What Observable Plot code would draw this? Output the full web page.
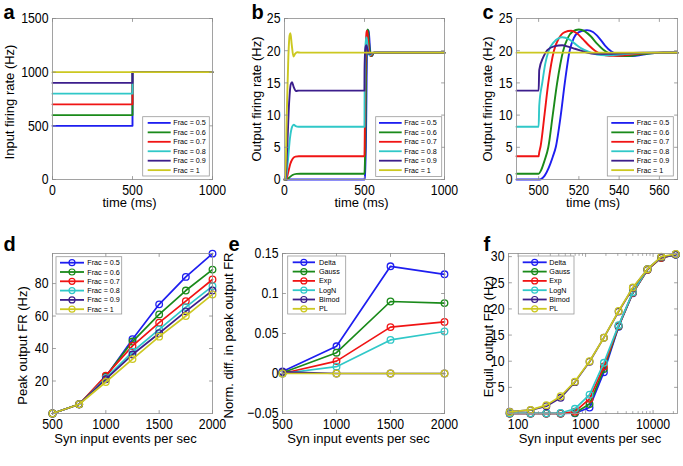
<!DOCTYPE html>
<html><head><meta charset="utf-8">
<script src="https://cdn.jsdelivr.net/npm/d3@7"></script>
<script src="https://cdn.jsdelivr.net/npm/@observablehq/plot@0.6"></script>
<style>
html,body{margin:0;padding:0;background:#fff;}
#fig{position:relative;width:683px;height:466px;overflow:hidden;background:#fff;}
#fig svg{position:absolute;left:0;top:0;}
</style></head><body><div id="fig"></div>
<script>
const FONT = "'Liberation Sans',Arial,sans-serif";
const SQUEEZE = 0.82;
const W = 683, H = 466;

// ---------- shared labels / colours ----------
const fracLabels = ["Frac = 0.5","Frac = 0.6","Frac = 0.7","Frac = 0.8","Frac = 0.9","Frac = 1"];
const distLabels = ["Delta","Gauss","Exp","LogN","Bimod","PL"];
const colors = ["#1e1ef0","#1a8a1a","#f01414","#30c8c8","#3c1e8c","#ccc820"];

// ---------- panel a : input firing rate ----------
const aTime = [0, 500, 500, 1000];
const aRates = [
  [500, 500, 1000, 1000],
  [600, 600, 1000, 1000],
  [700, 700, 1000, 1000],
  [800, 800, 1000, 1000],
  [900, 900, 1000, 1000],
  [1000, 1000, 1000, 1000]
];
const aXTicks = [0, 500, 1000];
const aYTicks = [0, 500, 1000, 1500];

// ---------- panel b : onset transient (t, Hz) ----------
const bOnset = [
  [[0,0],[500,0]],
  [[0,0],[15,0],[30,0.3],[50,0.7],[75,0.88],[100,0.9],[500,0.9]],
  [[0,0],[10,0],[22,1],[36,2.4],[52,3.25],[68,3.55],[90,3.6],[500,3.6]],
  [[0,0],[8,0],[20,2.6],[34,6.4],[48,8.2],[58,8.5],[70,8.3],[88,8.2],[500,8.2]],
  [[0,0],[6,0],[17,5],[29,12],[39,14.8],[47,15.1],[57,14.4],[72,13.75],[90,13.8],[500,13.8]],
  [[0,0],[5,0],[14,10],[24,19],[32,22.4],[37,22.7],[45,21],[56,19.1],[66,19.5],[80,19.75],[100,19.7],[500,19.7]]
];
const bEnd = [1000, 19.7];
const bXTicks = [0, 500, 1000];
const bYTicks = [0, 5, 10, 15, 20, 25];

// ---------- panel c : response to the step at 500 ms ----------
const cStep = [
  [[489,0],[500.5,0],[503,0.6],[505,1.8],[507,3.5],[508.5,5],[511,10],[513,15],[515.4,20],[517.5,22],[520,22.9],[524,23.2],[527,22.9],[530,22],[533,20.8],[536,19.9],[539,19.4],[544,19.15],[550,19.3],[556,19.6],[562,19.7],[569,19.7]],
  [[489,0.9],[500,0.9],[501,1.3],[503,3],[504.8,5],[507,10],[509.2,15],[512.2,20],[514.5,22],[517,23],[520,23.3],[523,23],[526,22.2],[529,21.1],[532,20.2],[535,19.6],[539,19.2],[544,19.15],[550,19.4],[556,19.6],[562,19.7],[569,19.7]],
  [[489,3.6],[500,3.6],[500.3,4.2],[501,5.2],[502.9,10],[504.8,15],[507.6,20],[510,21.9],[513,22.9],[516.2,23.1],[519,22.7],[522,21.8],[525,20.8],[528,20],[531,19.5],[535,19.2],[540,19.2],[546,19.4],[552,19.6],[560,19.7],[569,19.7]],
  [[489,8.2],[500,8.2],[500.3,11.5],[501.8,15],[503.3,18],[505,20],[507.5,21.3],[511.7,22.1],[515,21.8],[518,21.1],[521,20.4],[525,19.8],[529,19.4],[533,19.3],[540,19.4],[548,19.6],[556,19.7],[569,19.7]],
  [[489,13.8],[500,13.8],[500.3,17],[502.3,19],[504.3,20.1],[508,20.7],[511.7,20.85],[515,20.6],[518,20.3],[521,20],[524,19.7],[528,19.5],[534,19.5],[542,19.6],[552,19.7],[569,19.7]],
  [[489,19.7],[569,19.7]]
];
const cXTicks = [500, 520, 540, 560];
const cYTicks = [0, 5, 10, 15, 20, 25];

// ---------- panel d : peak output FR ----------
const dX = [500, 750, 1000, 1250, 1500, 1750, 2000];
const dY = [
  [0, 5.7, 22.6, 45.7, 67.2, 84.1, 98.4],
  [0, 5.7, 22.9, 44.3, 61.0, 75.7, 88.6],
  [0, 5.7, 23.3, 41.6, 55.9, 69.2, 82.5],
  [0, 5.7, 21.8, 38.0, 51.8, 65.5, 78.4],
  [0, 5.7, 21.1, 36.3, 49.4, 62.9, 75.7],
  [0, 5.7, 19.4, 33.5, 47.3, 60.0, 73.3]
];
const dXTicks = [500, 1000, 1500, 2000];
const dYTicks = [20, 40, 60, 80];

// ---------- panel e : normalised difference ----------
const eX = [500, 1000, 1500, 2000];
const eY = [
  [0.0025, 0.034, 0.134, 0.124],
  [0.001, 0.026, 0.090, 0.088],
  [0, 0.0155, 0.058, 0.0645],
  [0, 0.0085, 0.042, 0.0525],
  [0.002, 0, 0, 0],
  [0, 0, 0, 0]
];
const eXTicks = [500, 1000, 1500, 2000];
const eYTicks = [-0.05, 0, 0.05, 0.1, 0.15];
const eYLabels = ["\u22120.05", "0", "0.05", "0.1", "0.15"];

// ---------- panel f : equilibrium output FR ----------
const fX = [75, 153, 262, 426, 694, 1144, 1866, 3084, 5010, 8250, 13240, 21700];
const fY = [
  [0, 0, 0, 0, 0.05, 1.15, 7.9, 16.6, 23.0, 27.5, 29.8, 30.4],
  [0, 0, 0, 0, 0.1, 1.8, 8.5, 16.7, 23.1, 27.5, 29.8, 30.4],
  [0, 0, 0, 0, 0.35, 2.8, 9.0, 16.8, 23.1, 27.5, 29.8, 30.4],
  [0.05, 0.05, 0.05, 0.1, 0.9, 3.6, 9.7, 16.9, 23.2, 27.6, 29.9, 30.4],
  [0.35, 0.65, 1.4, 3.0, 6.0, 9.9, 14.5, 19.5, 24.0, 27.6, 29.9, 30.4],
  [0.3, 0.7, 1.6, 3.3, 6.1, 10.0, 14.5, 19.6, 24.1, 27.6, 30.0, 30.5]
];
const fXTicks = [100, 1000, 10000];
const fXMinor = [200,300,400,500,600,700,800,900,2000,3000,4000,5000,6000,7000,8000,9000,20000];
const fYTicks = [5, 10, 15, 20, 25, 30];

// ---------- helpers ----------
const fig = document.getElementById("fig");
const tickShape = {draw(ctx, l) { ctx.moveTo(0, 0); ctx.lineTo(0, -l); }};
const TICKC = "#8a8a8a";

function innerTicks(xt, yt, len = 3) {
  return [
    Plot.vector(xt, {x: d => d, frameAnchor: "bottom", length: len, rotate: 0, anchor: "start", shape: tickShape, stroke: TICKC, strokeWidth: 0.8}),
    Plot.vector(xt, {x: d => d, frameAnchor: "top", length: len, rotate: 180, anchor: "start", shape: tickShape, stroke: TICKC, strokeWidth: 0.8}),
    Plot.vector(yt, {y: d => d, frameAnchor: "left", length: len, rotate: 90, anchor: "start", shape: tickShape, stroke: TICKC, strokeWidth: 0.8}),
    Plot.vector(yt, {y: d => d, frameAnchor: "right", length: len, rotate: -90, anchor: "start", shape: tickShape, stroke: TICKC, strokeWidth: 0.8})
  ];
}

function panel(cfg) {
  const {frame, x, y, xt, yt, xfmt, yfmt, marks, xlabel, ylabel, ylabelDx, ylabelDy = 0, xlabelDx = 0, xlabelDy, letter, letterDx, letterDy, extraTicks} = cfg;
  const p = Plot.plot({
    width: W, height: H,
    marginLeft: frame[0], marginRight: W - frame[2], marginTop: frame[1], marginBottom: H - frame[3],
    x: {...x, label: null}, y: {...y, label: null},
    style: {fontFamily: FONT, fontSize: "13px", background: "transparent", color: "#000", overflow: "visible"},
    marks: [
      ...marks,
      Plot.frame({stroke: "#999", strokeWidth: 0.9}),
      ...innerTicks(xt, yt),
      ...(extraTicks || []),
      Plot.axisX(xt, {anchor: "bottom", tickSize: 0, tickPadding: 4.5, fontSize: 15, tickFormat: xfmt || (d => String(d)), label: null}),
      Plot.axisY(yt, {anchor: "left", tickSize: 0, tickPadding: 4, fontSize: 15, tickFormat: yfmt || (d => String(d)), label: null}),
      Plot.text([xlabel], {text: d => d, frameAnchor: "bottom", dx: xlabelDx, dy: xlabelDy, textAnchor: "middle", lineAnchor: "middle"}),
      Plot.text([ylabel], {text: d => d, frameAnchor: "left", dx: ylabelDx, dy: ylabelDy, rotate: -90, textAnchor: "middle", lineAnchor: "middle"}),
      Plot.text([letter], {text: d => d, frameAnchor: "top-left", dx: letterDx, dy: letterDy, textAnchor: "start", lineAnchor: "bottom", fontWeight: "bold", fontSize: 20})
    ]
  });
  fig.appendChild(p);
}

const LW = 1.9;

// ---- a ----
const aMarks = aRates.map((r, i) =>
  Plot.line(aTime.map((t, j) => ({t, v: r[j]})), {x: "t", y: "v", stroke: colors[i], strokeWidth: LW}));
panel({frame: [52, 18, 212, 179], x: {domain: [0, 1000]}, y: {domain: [0, 1500]}, xt: aXTicks, yt: aYTicks,
  marks: aMarks, xlabel: "time (ms)", ylabel: "Input firing rate (Hz)", ylabelDx: -42.5, ylabelDy: 3, xlabelDx: -3, xlabelDy: 23.5,
  letter: "a", letterDx: -49, letterDy: 0.5});

// ---- b ----
const bMarks = bOnset.map((on, i) => {
  const rows = on.map(([t, v]) => ({t, v}))
    .concat(cStep[i].filter(([t]) => t > 500).map(([t, v]) => ({t, v})))
    .concat([{t: bEnd[0], v: bEnd[1]}]);
  return Plot.line(rows, {x: "t", y: "v", stroke: colors[i], strokeWidth: LW, curve: "monotone-x"});
});
panel({frame: [284, 18, 444, 179], x: {domain: [0, 1000]}, y: {domain: [0, 25]}, xt: bXTicks, yt: bYTicks,
  marks: bMarks, xlabel: "time (ms)", ylabel: "Output firing rate (Hz)", ylabelDx: -28, xlabelDx: -3, xlabelDy: 23.5,
  letter: "b", letterDx: -33, letterDy: 0.5});

// ---- c ----
const cMarks = cStep.map((s, i) =>
  Plot.line(s.map(([t, v]) => ({t, v})), {x: "t", y: "v", stroke: colors[i], strokeWidth: LW, curve: "monotone-x"}));
panel({frame: [516, 18, 677, 179], x: {domain: [489, 569]}, y: {domain: [0, 25]}, xt: cXTicks, yt: cYTicks,
  marks: cMarks, xlabel: "time (ms)", ylabel: "Output firing rate (Hz)", ylabelDx: -28.5, xlabelDx: -4, xlabelDy: 23.5,
  letter: "c", letterDx: -34, letterDy: 0.5});

// ---- d, e, f : lines with open circles ----
function lineDots(X, Ys) {
  const out = [];
  Ys.forEach((ys, i) => {
    const rows = X.map((x, j) => ({x, v: ys[j]}));
    out.push(Plot.line(rows, {x: "x", y: "v", stroke: colors[i], strokeWidth: 1.7}));
    out.push(Plot.dot(rows, {x: "x", y: "v", stroke: colors[i], r: 3.3, strokeWidth: 1.3, fill: "none"}));
  });
  return out;
}
panel({frame: [52, 253, 212, 413], x: {domain: [500, 2000]}, y: {domain: [0, 98.5]}, xt: dXTicks, yt: dYTicks,
  marks: lineDots(dX, dY), xlabel: "Syn input events per sec", ylabel: "Peak output FR (Hz)", ylabelDx: -29.5, ylabelDy: 12, xlabelDx: -7, xlabelDy: 25.5,
  letter: "d", letterDx: -49, letterDy: -3});
panel({frame: [282, 253, 444, 413], x: {domain: [500, 2000]}, y: {domain: [-0.05, 0.15]}, xt: eXTicks, yt: eYTicks,
  yfmt: d => eYLabels[eYTicks.indexOf(d)],
  marks: lineDots(eX, eY), xlabel: "Syn input events per sec", ylabel: "Norm. diff. in peak output FR", ylabelDx: -53.5, ylabelDy: 2, xlabelDx: -5, xlabelDy: 25,
  letter: "e", letterDx: -54, letterDy: -3});
panel({frame: [508, 253, 677, 413], x: {type: "log", domain: [72, 23000]}, y: {domain: [0, 30.6]}, xt: fXTicks, yt: fYTicks,
  extraTicks: [
    Plot.vector(fXMinor, {x: d => d, frameAnchor: "bottom", length: 2, rotate: 0, anchor: "start", shape: tickShape, stroke: TICKC, strokeWidth: 0.7}),
    Plot.vector(fXMinor, {x: d => d, frameAnchor: "top", length: 2, rotate: 180, anchor: "start", shape: tickShape, stroke: TICKC, strokeWidth: 0.7})
  ],
  marks: lineDots(fX, fY), xlabel: "Syn input events per sec", ylabel: "Equil. output FR (Hz)", ylabelDx: -19.5, ylabelDy: 3, xlabelDx: -3, xlabelDy: 25,
  letter: "f", letterDx: -25, letterDy: -3});

// ---------- legends (overlay) ----------
const ov = d3.select(fig).append("svg").attr("width", W).attr("height", H)
  .style("font-family", FONT);
function legend(spec, labels, marker) {
  const g = ov.append("g");
  g.append("rect").attr("x", spec.box[0]).attr("y", spec.box[1])
    .attr("width", spec.box[2] - spec.box[0]).attr("height", spec.box[3] - spec.box[1])
    .attr("fill", "#fff").attr("stroke", "#999").attr("stroke-width", 0.8);
  labels.forEach((lab, i) => {
    const yy = spec.box[1] + spec.first + i * spec.step;
    g.append("line").attr("x1", spec.line[0]).attr("x2", spec.line[1]).attr("y1", yy).attr("y2", yy)
      .attr("stroke", colors[i]).attr("stroke-width", 1.8);
    if (marker) g.append("circle").attr("cx", (spec.line[0] + spec.line[1]) / 2).attr("cy", yy).attr("r", 3)
      .attr("fill", "none").attr("stroke", colors[i]).attr("stroke-width", 1.2);
    g.append("text").attr("x", spec.tx).attr("y", yy).attr("dy", "0.35em").attr("font-size", 7.2).text(lab);
  });
}
legend({box: [142.7, 116.7, 209.3, 176], line: [147.7, 170.7], tx: 173.3, first: 6.2, step: 9.45}, fracLabels, false);
legend({box: [375.7, 116.7, 441.7, 176.5], line: [379, 401.7], tx: 404.3, first: 6.2, step: 9.45}, fracLabels, false);
legend({box: [607.3, 116.7, 673.3, 176], line: [611.3, 634], tx: 636.7, first: 6.2, step: 9.45}, fracLabels, false);
legend({box: [56, 256.7, 121.7, 314], line: [60, 84], tx: 87.3, first: 6, step: 9.3}, fracLabels, true);
legend({box: [287.7, 256, 345.7, 314], line: [292.7, 315], tx: 319, first: 6.3, step: 9.3}, distLabels, true);
legend({box: [518.3, 256, 574, 314], line: [522.7, 546.7], tx: 549.3, first: 6.3, step: 9.3}, distLabels, true);

// ---------- tick labels in the original use a narrow face: squeeze them horizontally ----------
fig.querySelectorAll('g[aria-label$="tick label"] text').forEach(t => {
  const L = t.getComputedTextLength();
  if (L > 0) {
    t.setAttribute("textLength", (L * SQUEEZE).toFixed(2));
    t.setAttribute("lengthAdjust", "spacingAndGlyphs");
  }
});
</script></body></html>
